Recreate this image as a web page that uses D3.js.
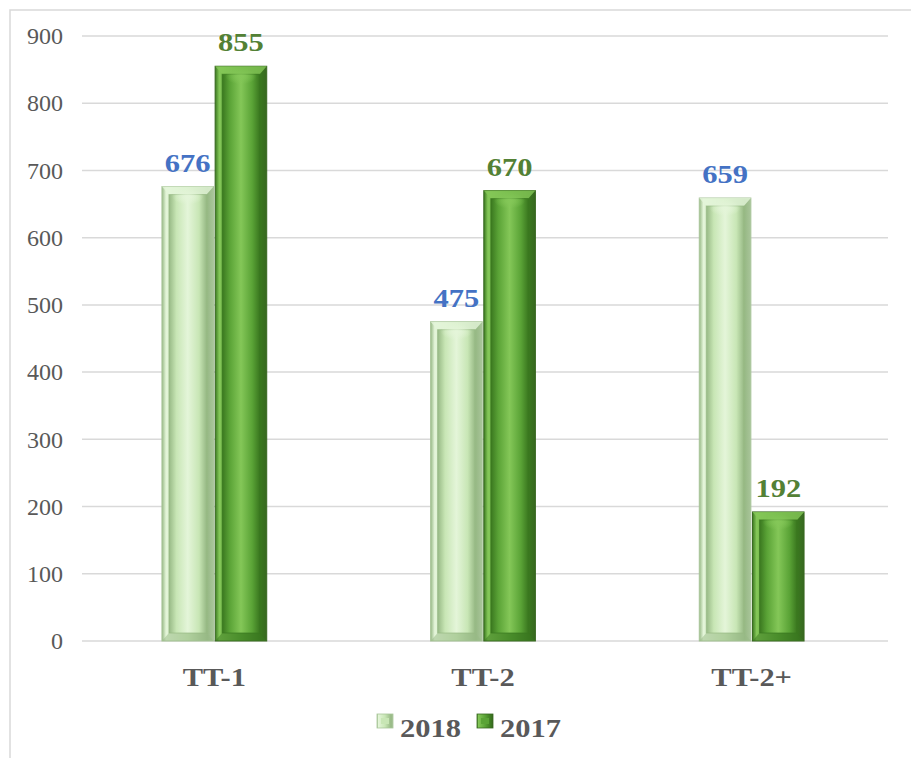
<!DOCTYPE html>
<html>
<head>
<meta charset="utf-8">
<script src="https://cdn.jsdelivr.net/npm/d3@7"></script>
<style>
  body { margin: 0; background: #fff; }
  svg { display: block; }
</style>
</head>
<body>
<div id="chart"></div>
<script>
// data
const categories = ["TT-1", "TT-2", "TT-2+"];
const seriesNames = ["2018", "2017"];
const values2018 = [676, 475, 659];
const values2017 = [855, 670, 192];
const yTicks = [0, 100, 200, 300, 400, 500, 600, 700, 800, 900];

const W = 911, H = 758;
const margin = {left: 82, right: 23, top: 36, bottom: 117};
const serif = "'Liberation Serif', 'Times New Roman', serif";
const stretch = 1.22; // the source picture is a bit wide

const svg = d3.select("#chart").append("svg").attr("width", W).attr("height", H);

// colour sets for the two series
const palette = {
  "2018": {base: "#c8e6b5", light: "#e4f5d9", dark: "#97b985", stroke: "#a9c59a", label: "#4472c4"},
  "2017": {base: "#5aa336", light: "#84c758", dark: "#3a771f", stroke: "#386820", label: "#538135"}
};

const defs = svg.append("defs");
seriesNames.forEach((s, i) => {
  const c = palette[s];
  const outer = defs.append("linearGradient").attr("id", "outer" + i).attr("x1", "0").attr("x2", "1");
  [[0, c.dark], [0.08, c.light], [0.5, c.base], [0.88, c.dark], [1, c.stroke]]
    .forEach(d => outer.append("stop").attr("offset", d[0]).attr("stop-color", d[1]));
  const inner = defs.append("linearGradient").attr("id", "inner" + i).attr("x1", "0").attr("x2", "1");
  [[0, c.dark], [0.2, c.base], [0.5, c.light], [0.8, c.base], [1, c.dark]]
    .forEach(d => inner.append("stop").attr("offset", d[0]).attr("stop-color", d[1]));
  const cap = defs.append("radialGradient").attr("id", "cap" + i);
  cap.append("stop").attr("offset", 0).attr("stop-color", c.light).attr("stop-opacity", 1);
  cap.append("stop").attr("offset", 1).attr("stop-color", c.light).attr("stop-opacity", 0);
});

// wide text helper: scales text horizontally around its anchor point
function wideText(sel, x, y, size) {
  return sel.append("text")
    .attr("transform", `translate(${x},${y}) scale(${stretch},1)`)
    .attr("font-family", serif).attr("font-size", size).attr("font-weight", "bold");
}

// outer chart border
svg.append("rect")
  .attr("x", 10).attr("y", 10).attr("width", W).attr("height", H)
  .attr("fill", "none").attr("stroke", "#d9d9d9").attr("stroke-width", 1.5);

const y = d3.scaleLinear().domain([0, 900]).range([H - margin.bottom, margin.top]);
const x = d3.scaleBand().domain(categories)
  .range([margin.left - 2, W - margin.right - 2])
  .paddingInner(0.61).paddingOuter(0.305);
const x1 = d3.scaleBand().domain(seriesNames).range([0, x.bandwidth()]).paddingInner(0.03);

// gridlines
svg.append("g").selectAll("line").data(yTicks).enter().append("line")
  .attr("x1", margin.left).attr("x2", W - margin.right)
  .attr("y1", d => y(d)).attr("y2", d => y(d))
  .attr("stroke", "#d9d9d9").attr("stroke-width", 1.5);

// y axis labels
const yAxis = svg.append("g")
  .attr("transform", `translate(${margin.left - 19},0)`)
  .call(d3.axisLeft(y).tickValues(yTicks).tickSize(0).tickPadding(0));
yAxis.select(".domain").remove();
yAxis.selectAll("text")
  .attr("font-family", serif)
  .attr("font-size", 24).attr("fill", "#595959");

// category labels
const catG = svg.append("g");
categories.forEach(d => {
  wideText(catG, x(d) + x.bandwidth() / 2, y(0) + 45, 25)
    .attr("text-anchor", "middle").attr("fill", "#595959").text(d);
});

const rows = categories.map((c, i) => ({cat: c, vals: [values2018[i], values2017[i]]}));

rows.forEach(row => {
  row.vals.forEach((v, i) => {
    const s = seriesNames[i], c = palette[s];
    const bx = x(row.cat) + x1(s), bw = x1.bandwidth();
    const by = y(v), bh = y(0) - y(v);
    const g = svg.append("g").datum(v);
    const b = 7, bt = 8;
    // outer body
    g.append("rect").attr("x", bx).attr("y", by).attr("width", bw).attr("height", bh)
      .attr("fill", `url(#outer${i})`).attr("stroke", c.stroke).attr("stroke-width", 1);
    // bevel: top and bottom faces
    g.append("path")
      .attr("d", `M${bx},${by}L${bx + bw},${by}L${bx + bw - b},${by + bt}L${bx + b},${by + bt}Z`)
      .attr("fill", c.light).attr("opacity", 0.8);
    g.append("path")
      .attr("d", `M${bx},${by + bh}L${bx + bw},${by + bh}L${bx + bw - b},${by + bh - bt}L${bx + b},${by + bh - bt}Z`)
      .attr("fill", c.dark).attr("opacity", 0.5);
    // inner channel
    g.append("rect").attr("x", bx + b).attr("y", by + bt)
      .attr("width", bw - 2 * b).attr("height", Math.max(0, bh - 2 * bt))
      .attr("fill", `url(#inner${i})`).attr("stroke", c.dark).attr("stroke-width", 1).attr("stroke-opacity", 0.7);
    // top highlight
    g.append("ellipse").attr("cx", bx + bw / 2).attr("cy", by + bt + 2)
      .attr("rx", (bw - 2 * b) / 2.4).attr("ry", 8)
      .attr("fill", `url(#cap${i})`);
    // value label
    wideText(g, bx + bw / 2, by - 15, 25)
      .attr("text-anchor", "middle").attr("fill", c.label).text(v);
  });
});

// legend
const legend = svg.append("g").attr("transform", "translate(377,728)");
seriesNames.forEach((s, i) => {
  const c = palette[s];
  const lg = legend.append("g").attr("transform", `translate(${i * 100},0)`);
  lg.append("rect").attr("x", 0).attr("y", -14).attr("width", 16).attr("height", 14)
    .attr("fill", `url(#outer${i})`).attr("stroke", c.stroke).attr("stroke-width", 0.8);
  lg.append("rect").attr("x", 4).attr("y", -10).attr("width", 8).attr("height", 6)
    .attr("fill", c.base);
  wideText(lg, 23, 9, 25).attr("fill", "#595959").text(s);
});
</script>
</body>
</html>
